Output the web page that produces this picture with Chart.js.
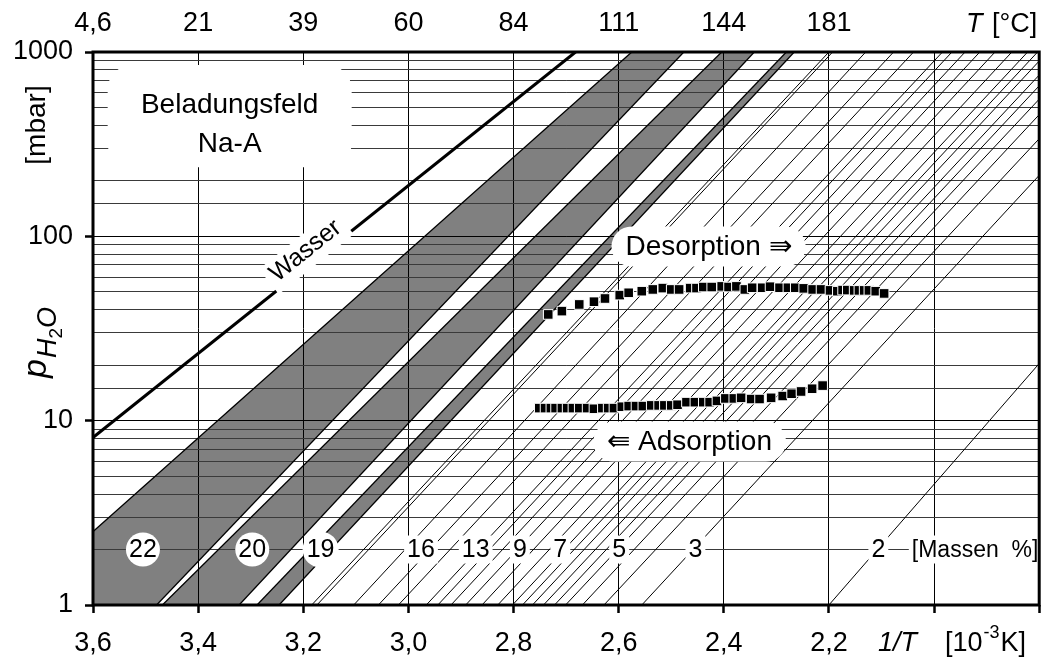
<!DOCTYPE html>
<html>
<head>
<meta charset="utf-8">
<script src="https://cdn.jsdelivr.net/npm/chart.js@4.4.1/dist/chart.umd.min.js"></script>
<style>
  html, body { margin: 0; padding: 0; background: #fff; }
  #wrap { width: 1047px; height: 658px; position: relative; }
</style>
</head>
<body>
<div id="wrap"><canvas id="chart"></canvas></div>
<script>
// ================== DATA ==================

// 1/T axis [10^-3 K] and the matching temperatures in °C on top
const xTicks = [3.6, 3.4, 3.2, 3.0, 2.8, 2.6, 2.4, 2.2];
const xTickLabels = ['3,6', '3,4', '3,2', '3,0', '2,8', '2,6', '2,4', '2,2'];
const topTickLabels = ['4,6', '21', '39', '60', '84', '111', '144', '181'];
const yTickValues = [1, 10, 100, 1000];

// water vapour pressure line, 1/T at 1 mbar and at 1000 mbar
const waterU = [3.999, 2.682];

// grey bands (Massen %), edges given as 1/T at 1 mbar and at 1000 mbar
const bandNames = ['22', '20', '19'];
const bandLeftAt1 = [3.757, 3.468, 3.288];
const bandLeftAt1000 = [2.575, 2.404, 2.281];
const bandRightAt1 = [3.479, 3.322, 3.246];
const bandRightAt1000 = [2.476, 2.342, 2.266];

// thin isosteres, 1/T at 1 mbar and at 1000 mbar
const isoAt1 = [3.184, 3.174, 3.104, 3.057, 3.019, 2.966, 2.944, 2.919, 2.891, 2.860, 2.830,
  2.802, 2.783, 2.764, 2.743, 2.722, 2.701, 2.669, 2.628, 2.556, 2.200];
const isoAt1000 = [2.200, 2.193, 2.130, 2.077, 2.039, 1.984, 1.966, 1.941, 1.913, 1.884, 1.852,
  1.822, 1.803, 1.784, 1.759, 1.740, 1.716, 1.689, 1.646, 1.583, 1.284];

// labels sitting on the 2 mbar line
const massLabels = ['22', '20', '19', '16', '13', '9', '7', '5', '3', '2', '[Massen  %]'];
const massLabelU = [3.505, 3.297, 3.167, 2.976, 2.872, 2.788, 2.711, 2.599, 2.454, 2.106, 1.922];
const massLabelP = 2;

// measured points
const desU = [2.734, 2.708, 2.675, 2.647, 2.626, 2.598, 2.581, 2.556, 2.535, 2.516, 2.500, 2.485,
  2.464, 2.452, 2.439, 2.423, 2.404, 2.391, 2.376, 2.360, 2.346, 2.327, 2.312, 2.294, 2.278,
  2.264, 2.248, 2.231, 2.215, 2.198, 2.184, 2.174, 2.165, 2.152, 2.143, 2.133, 2.124, 2.111, 2.095];
const desP = [37.7, 39.3, 42.7, 44.2, 46.0, 48.0, 49.4, 50.4, 51.5, 52.4, 51.5, 51.5,
  52.4, 52.4, 53.1, 53.1, 53.5, 53.1, 53.5, 51.5, 52.6, 52.6, 53.3, 52.6, 52.6,
  52.6, 52.2, 51.5, 51.5, 50.9, 50.4, 51.1, 51.1, 50.9, 50.9, 50.9, 50.9, 50.4, 49.0];
const adsU = [2.751, 2.740, 2.729, 2.720, 2.708, 2.698, 2.687, 2.675, 2.660, 2.647, 2.631, 2.620,
  2.609, 2.594, 2.581, 2.567, 2.554, 2.538, 2.524, 2.513, 2.500, 2.488, 2.471, 2.455, 2.439,
  2.427, 2.413, 2.397, 2.381, 2.367, 2.348, 2.332, 2.310, 2.288, 2.271, 2.253, 2.232, 2.212];
const adsP = [11.7, 11.7, 11.7, 11.7, 11.7, 11.7, 11.7, 11.7, 11.7, 11.6, 11.7, 11.7,
  11.7, 11.9, 12.0, 12.0, 12.0, 12.1, 12.1, 12.1, 12.1, 12.2, 12.6, 12.6, 12.6,
  12.6, 12.8, 13.2, 13.2, 13.3, 13.1, 13.1, 13.3, 13.6, 14.0, 14.4, 14.9, 15.5];

// ================== HELPERS ==================
const FONT = "'Liberation Sans', Arial, sans-serif";
const segment = (a, b) => [{ x: a, y: 1 }, { x: b, y: 1000 }];
const labelFor = (v, labels) => {
  const i = xTicks.findIndex(t => Math.abs(t - v) < 1e-6);
  return i >= 0 ? labels[i] : '';
};

function lineSet(a, b, width, order) {
  return {
    data: segment(a, b), showLine: true, borderColor: '#000', borderWidth: width,
    pointRadius: 0, pointHoverRadius: 0, order: order
  };
}

const datasets = [];
datasets.push({
  label: 'Desorption', data: desU.map((u, i) => ({ x: u, y: desP[i] })),
  pointStyle: 'rect', pointRadius: 6.8, backgroundColor: '#000', borderColor: '#fff',
  borderWidth: 1, showLine: false, order: 0
});
datasets.push({
  label: 'Adsorption', data: adsU.map((u, i) => ({ x: u, y: adsP[i] })),
  pointStyle: 'rect', pointRadius: 6.8, backgroundColor: '#000', borderColor: '#fff',
  borderWidth: 1, showLine: false, order: 0
});
datasets.push(lineSet(waterU[0], waterU[1], 3, 1));
bandNames.forEach((n, i) => {
  datasets.push(lineSet(bandLeftAt1[i], bandLeftAt1000[i], 1.3, 2));
  datasets.push(lineSet(bandRightAt1[i], bandRightAt1000[i], 1.3, 2));
});
isoAt1.forEach((a, i) => datasets.push(lineSet(a, isoAt1000[i], 1, 3)));

// ================== PLUGINS ==================
// grey band fill under the grid
const bandFill = {
  id: 'bandFill',
  beforeDraw(chart) {
    const { ctx, chartArea: a, scales: { x, y } } = chart;
    ctx.save();
    ctx.beginPath();
    ctx.rect(a.left, a.top, a.width, a.height);
    ctx.clip();
    ctx.fillStyle = '#808080';
    bandNames.forEach((n, i) => {
      ctx.beginPath();
      ctx.moveTo(x.getPixelForValue(bandLeftAt1[i]), y.getPixelForValue(1));
      ctx.lineTo(x.getPixelForValue(bandLeftAt1000[i]), y.getPixelForValue(1000));
      ctx.lineTo(x.getPixelForValue(bandRightAt1000[i]), y.getPixelForValue(1000));
      ctx.lineTo(x.getPixelForValue(bandRightAt1[i]), y.getPixelForValue(1));
      ctx.closePath();
      ctx.fill();
    });
    ctx.restore();
  }
};

function roundBox(ctx, x, y, w, h, r) {
  ctx.beginPath();
  if (ctx.roundRect) ctx.roundRect(x, y, w, h, r); else ctx.rect(x, y, w, h);
  ctx.fillStyle = '#fff';
  ctx.fill();
}

// texts, white masks and frame
const annotations = {
  id: 'annotations',
  afterDatasetsDraw(chart) {
    const { ctx, chartArea: a, scales: { x, y } } = chart;
    ctx.save();
    ctx.textAlign = 'center';
    ctx.textBaseline = 'middle';
    ctx.fillStyle = '#000';

    // Beladungsfeld box
    const bx = x.getPixelForValue(3.34);
    const by1 = y.getPixelForValue(515), by2 = y.getPixelForValue(316);
    roundBox(ctx, bx - 122, by1 - 40, 244, by2 - by1 + 63, 24);
    ctx.fillStyle = '#000';
    ctx.font = '28px ' + FONT;
    ctx.fillText('Beladungsfeld', bx, by1);
    ctx.fillText('Na-A', bx, by2);

    // Wasser label along the line
    const wx0 = x.getPixelForValue(waterU[0]), wy0 = y.getPixelForValue(1);
    const wx1 = x.getPixelForValue(waterU[1]), wy1 = y.getPixelForValue(1000);
    const ang = Math.atan2(wy1 - wy0, wx1 - wx0);
    const t = (3.18 - waterU[0]) / (waterU[1] - waterU[0]);
    const wx = wx0 + t * (wx1 - wx0), wy = wy0 + t * (wy1 - wy0);
    ctx.save();
    ctx.translate(wx, wy);
    ctx.rotate(ang);
    ctx.font = '25px ' + FONT;
    const ww = ctx.measureText('Wasser').width;
    ctx.fillStyle = '#fff';
    ctx.fillRect(-ww / 2 - 6, -28, ww + 12, 32);
    ctx.fillStyle = '#000';
    ctx.fillText('Wasser', 0, -13);
    ctx.restore();

    // Desorption / Adsorption
    ctx.font = '28px ' + FONT;
    [['Desorption \u21DB', 2.429, 88], ['\u21DA Adsorption', 2.465, 7.7]].forEach(([txt, u, p]) => {
      const cx = x.getPixelForValue(u), cy = y.getPixelForValue(p);
      const w = ctx.measureText(txt).width;
      roundBox(ctx, cx - w / 2 - 14, cy - 20, w + 28, 40, 20);
      ctx.fillStyle = '#000';
      ctx.fillText(txt, cx, cy + 1);
    });

    // Massen % labels on the 2 mbar line
    const ly = y.getPixelForValue(massLabelP);
    massLabels.forEach((txt, i) => {
      const cx = x.getPixelForValue(massLabelU[i]);
      ctx.font = (i === massLabels.length - 1 ? '23px ' : '25px ') + FONT;
      const w = ctx.measureText(txt).width;
      ctx.fillStyle = '#fff';
      if (i < 3) {
        ctx.beginPath();
        ctx.arc(cx, ly, i === 2 ? 18 : 17, 0, Math.PI * 2);
        ctx.fill();
      } else {
        ctx.fillRect(cx - w / 2 - 3, ly - 14, w + 6, 28);
      }
      ctx.fillStyle = '#000';
      ctx.fillText(txt, cx, ly + 1);
    });

    // frame
    ctx.lineWidth = 3;
    ctx.strokeStyle = '#000';
    ctx.strokeRect(a.left, a.top, a.width, a.height);
    ctx.restore();
  },
  afterDraw(chart) {
    const { ctx } = chart;
    ctx.save();
    ctx.fillStyle = '#000';
    ctx.textBaseline = 'alphabetic';
    ctx.textAlign = 'left';

    // bottom axis title: 1/T [10^-3 K]
    let px = 878;
    ctx.font = 'italic 27px ' + FONT;
    ctx.fillText('1/T', px, 651);
    px = 945;
    ctx.font = '27px ' + FONT;
    ctx.fillText('[10', px, 651);
    px += ctx.measureText('[10').width + 1;
    ctx.font = '18px ' + FONT;
    ctx.fillText('-3', px, 638);
    px += ctx.measureText('-3').width + 1;
    ctx.font = '27px ' + FONT;
    ctx.fillText('K]', px, 651);

    // top axis title: T [°C]
    ctx.font = 'italic 27px ' + FONT;
    ctx.fillText('T', 966, 32);
    ctx.font = '27px ' + FONT;
    ctx.fillText('[\u00B0C]', 992, 32);

    // y axis title
    ctx.save();
    ctx.translate(45, 125);
    ctx.rotate(-Math.PI / 2);
    ctx.textAlign = 'center';
    ctx.font = '28px ' + FONT;
    ctx.fillText('[mbar]', 0, 0);
    ctx.restore();

    ctx.save();
    ctx.translate(46, 378);
    ctx.rotate(-Math.PI / 2);
    ctx.font = 'italic 34px ' + FONT;
    ctx.fillText('p', 0, 0);
    let sx = ctx.measureText('p').width + 1;
    ctx.font = 'italic 27px ' + FONT;
    ctx.fillText('H', sx, 10);
    sx += ctx.measureText('H').width;
    ctx.font = '19px ' + FONT;
    ctx.fillText('2', sx, 16);
    sx += ctx.measureText('2').width;
    ctx.font = 'italic 27px ' + FONT;
    ctx.fillText('O', sx, 10);
    ctx.restore();

    ctx.restore();
  }
};

// ================== CHART ==================
Chart.defaults.font.family = FONT;
Chart.defaults.color = '#000';

const noSidePad = s => { s.paddingLeft = 0; s.paddingRight = 0; };

new Chart(document.getElementById('chart'), {
  type: 'scatter',
  data: { datasets: datasets },
  options: {
    responsive: true,
    maintainAspectRatio: false,
    devicePixelRatio: 1,
    animation: false,
    layout: { padding: { right: 4, left: 0, top: 0, bottom: 0 } },
    plugins: { legend: { display: false }, tooltip: { enabled: false } },
    scales: {
      x: {
        type: 'linear', position: 'bottom', reverse: true, min: 1.8, max: 3.6,
        afterFit: s => { s.height = 53; noSidePad(s); },
        border: { display: false },
        grid: { color: '#000', lineWidth: 1, tickLength: 8, tickWidth: 2.5, tickColor: '#000' },
        ticks: {
          stepSize: 0.2, autoSkip: false, maxRotation: 0, padding: 14,
          font: { size: 27 }, callback: v => labelFor(v, xTickLabels)
        }
      },
      x2: {
        type: 'linear', position: 'top', reverse: true, min: 1.8, max: 3.6,
        afterFit: s => { s.height = 52; noSidePad(s); },
        border: { display: false },
        grid: { display: false, drawTicks: false },
        ticks: {
          stepSize: 0.2, autoSkip: false, maxRotation: 0, padding: 12,
          font: { size: 27 }, callback: v => labelFor(v, topTickLabels)
        }
      },
      y: {
        type: 'logarithmic', position: 'left', min: 1, max: 1000,
        afterFit: s => { s.width = 93; },
        border: { display: false },
        grid: {
          lineWidth: 1, tickLength: 8, tickWidth: 2.5,
          color: c => (c.tick && yTickValues.includes(c.tick.value)) ? '#000' : '#3a3a3a',
          tickColor: c => (c.tick && yTickValues.includes(c.tick.value)) ? '#000' : 'rgba(0,0,0,0)'
        },
        ticks: {
          autoSkip: false, padding: 12, font: { size: 27 },
          callback: v => yTickValues.includes(v) ? String(v) : ''
        }
      }
    }
  },
  plugins: [bandFill, annotations]
});
</script>
</body>
</html>
